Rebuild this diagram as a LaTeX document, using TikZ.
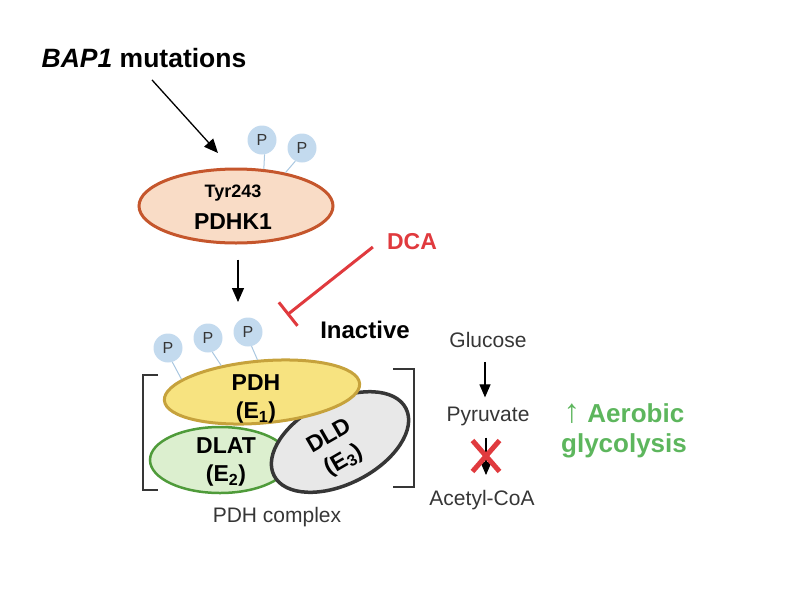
\documentclass[tikz,border=0pt]{standalone}
\usepackage{fontspec}
\setmainfont{Liberation Sans}
\usetikzlibrary{arrows.meta,shapes.geometric,shapes.misc}
\definecolor{peach100}{HTML}{F9DCC6}
\definecolor{peach700}{HTML}{C5562C}
\definecolor{blue200} {HTML}{C3DAEE}
\definecolor{blue300} {HTML}{A9C7E0}
\definecolor{gold100} {HTML}{F7E380}
\definecolor{gold600} {HTML}{C6A23C}
\definecolor{green100}{HTML}{DCEFCF}
\definecolor{green600}{HTML}{4F9B3A}
\definecolor{green500}{HTML}{5DB65D}
\definecolor{grey100} {HTML}{E8E8E8}
\definecolor{grey800} {HTML}{363636}
\definecolor{red600}  {HTML}{E03A3E}
\newcommand{\fsz}[2]{\fontsize{#1}{#2}\selectfont}
\tikzset{
  enz/.style   ={ellipse, inner sep=0pt, line width=3pt},
  phos/.style  ={circle, fill=blue200, minimum size=29pt, inner sep=0pt,
                 text=grey800, font=\fsz{16}{19}},
  stalk/.style ={draw=blue300, line width=1pt},
  lbl/.style   ={font=\bfseries\fsz{23}{28}, align=center, inner sep=0pt},
  txt/.style   ={font=\fsz{21}{25}, text=grey800, inner sep=0pt},
  ar/.style    ={-{Triangle[length=14pt,width=12pt]}, line width=1.3pt},
  arp/.style   ={-{Triangle[length=13pt,width=11pt]}, line width=1.1pt},
  inh/.style   ={-{Bar[width=30pt]}, draw=red600, line width=3pt},
  brk/.style   ={draw=grey800, line width=1.5pt}
}

\begin{document}
\begin{tikzpicture}[x=1pt,y=-1pt]
\useasboundingbox (0,0) rectangle (790,590);

\node[font=\bfseries\fsz{26.5}{31}, inner sep=0pt] (bap) at (144,58)
  {\textit{BAP1} mutations};
\node[enz, draw=peach700, fill=peach100, minimum width=194pt,
      minimum height=74pt] (pdhk) at (236,206) {};
\node[lbl, font=\bfseries\fsz{18}{21}] (tyr) at (233,193) {Tyr243};
\node[lbl] (pdhkt) at (233,222) {PDHK1};
\node[phos] (pk1) at (262,140) {P};
\node[phos] (pk2) at (302,148) {P};
\draw[stalk] (pk1.-80) -- (pdhk.53);
\draw[stalk] (pk2.-117) -- (pdhk.34);

\coordinate (bapend) at (218,153);
\draw[ar] ([xshift=8pt,yshift=-12pt]bap.south) -- (bapend);
\coordinate (kend) at (238,302);
\draw[ar] ([xshift=2pt,yshift=-15pt]pdhk.south) -- (kend);

\node[font=\bfseries\fsz{23}{28}, text=red600, inner sep=0pt] (dca)
  at (412,242) {DCA};
\coordinate (dcaend) at (287,315);
\draw[inh] ([xshift=-14pt,yshift=-5pt]dca.west) -- (dcaend);
\node[lbl, font=\bfseries\fsz{24}{29}] (inact) at (365,330) {Inactive};

% PDH complex: E2 behind, E3, then E1 on top
\node[enz, draw=green600, fill=green100, line width=2.5pt,
      minimum width=140pt, minimum height=66pt] (dlat) at (220,460) {};
\node[enz, draw=grey800, fill=grey100, line width=3.5pt,
      minimum width=148pt, minimum height=84pt, rotate=27] (dld) at (340,442) {};
\node[enz, draw=gold600, fill=gold100, minimum width=196pt,
      minimum height=62pt, rotate=5] (pdh) at (262,392) {};
\node[lbl] (pdht) at (256,399) {PDH\\(E\textsubscript{1})};
\node[lbl] (dlatt) at (226,462) {DLAT\\(E\textsubscript{2})};
\node[lbl, rotate=30] (dldt) at (337,449) {DLD\\(E\textsubscript{3})};

\node[phos] (pp1) at (168,348) {P};
\node[phos] (pp2) at (208,338) {P};
\node[phos] (pp3) at (248,332) {P};
\draw[stalk] (pp1.-73) -- (pdh.166);
\draw[stalk] (pp2.-73) -- (pdh.142);
\draw[stalk] (pp3.-76) -- (pdh.93);

\draw[brk] (158,375) -- (143,375) -- (143,490) -- (158,490);
\draw[brk] (393,369) -- (414,369) -- (414,487) -- (393,487);
\node[txt] (cplx) at (277,517) {PDH complex};

\node[txt] (glc) at (488,340) {Glucose};
\node[txt] (pyr) at (488,416) {Pyruvate};
\node[txt] (acoa) at (482,500) {Acetyl-CoA};
\draw[arp] ([xshift=-3pt,yshift=-14pt]glc.south)
  -- ([xshift=-3pt,yshift=9pt]pyr.north);
\draw[arp] ([xshift=-2pt,yshift=-12pt]pyr.south)
  -- ([xshift=4pt,yshift=15pt]acoa.north);
\node[draw=red600, cross out, line width=5pt, minimum width=22pt,
      minimum height=26pt, inner sep=0pt] (nox) at (486,456) {};

\node[font=\bfseries\fsz{26}{30}, text=green500, align=center,
      inner sep=0pt] (aero) at (624,431)
  {{\mdseries\fsz{33}{30}↑} Aerobic\\glycolysis};
\end{tikzpicture}
\end{document}
